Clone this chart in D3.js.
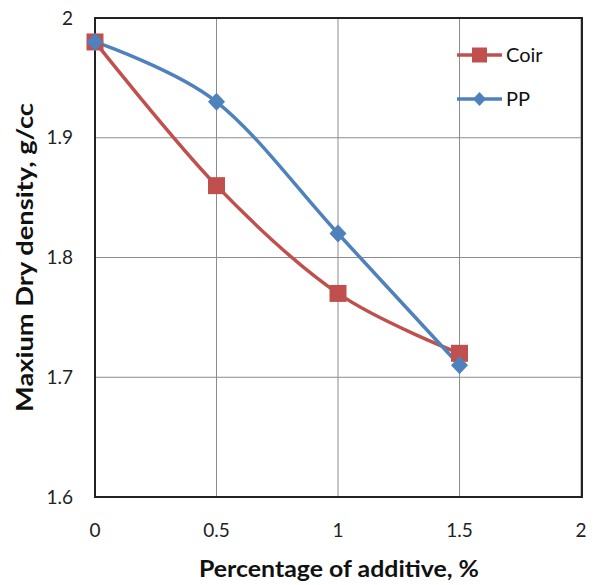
<!DOCTYPE html>
<html><head><meta charset="utf-8">
<script src="https://cdn.jsdelivr.net/npm/d3@7"></script>
<style>body{margin:0;background:#fff}</style>
</head><body>
<svg id="c" width="595" height="585"></svg>
<script>
const xValues = [0, 0.5, 1, 1.5];
const coir = [1.98, 1.86, 1.77, 1.72];
const pp = [1.98, 1.93, 1.82, 1.71];
const xTicks = [0, 0.5, 1, 1.5, 2];
const yTicks = [1.6, 1.7, 1.8, 1.9, 2];
const seriesNames = ["Coir", "PP"];

const svg = d3.select("#c");
const font = "Lato, 'Open Sans', sans-serif";
const L = 95, R = 582, T = 18, B = 497;
const x = d3.scaleLinear().domain([0, 2]).range([L, 581]);
const y = d3.scaleLinear().domain([1.6, 2]).range([B, T]);

// grid
svg.append("g").selectAll("line").data(xTicks.slice(1)).join("line")
  .attr("x1", d => x(d)).attr("x2", d => x(d)).attr("y1", T).attr("y2", B)
  .attr("stroke", "#8c8c8c").attr("stroke-width", 1);
svg.append("g").selectAll("line").data(yTicks.slice(1)).join("line")
  .attr("x1", L).attr("x2", R).attr("y1", d => y(d)).attr("y2", d => y(d))
  .attr("stroke", "#8c8c8c").attr("stroke-width", 1);
// border
svg.append("rect").attr("x", L).attr("y", T).attr("width", R - L).attr("height", B - T)
  .attr("fill", "none").attr("stroke", "#222").attr("stroke-width", 2);

// tick labels
svg.append("g").selectAll("text").data(yTicks).join("text")
  .attr("x", 73).attr("y", d => y(d)).attr("dy", "0.35em").attr("text-anchor", "end")
  .attr("font-family", font).attr("font-size", 19).attr("fill", "#222")
  .text(d => d3.format("")(d));
svg.append("g").selectAll("text").data(xTicks).join("text")
  .attr("x", d => x(d)).attr("y", 537).attr("text-anchor", "middle")
  .attr("font-family", font).attr("font-size", 19).attr("fill", "#222")
  .text(d => d3.format("")(d));

// axis titles
svg.append("text").attr("x", 339).attr("y", 577).attr("text-anchor", "middle")
  .attr("font-family", font).attr("font-weight", "bold").attr("font-size", 22).attr("fill", "#111")
  .attr("textLength", 280).attr("lengthAdjust", "spacingAndGlyphs")
  .text("Percentage of additive, %");
svg.append("text").attr("transform", "translate(33,257.5) rotate(-90)").attr("text-anchor", "middle")
  .attr("font-family", font).attr("font-weight", "bold").attr("font-size", 22).attr("fill", "#111")
  .attr("textLength", 309).attr("lengthAdjust", "spacingAndGlyphs")
  .text("Maxium Dry density, g/cc");

const line = d3.line().x(d => x(d[0])).y(d => y(d[1])).curve(d3.curveCatmullRom.alpha(0));
const colors = ["#C0504D", "#4F81BD"];
const data = [coir, pp];

data.forEach((vals, i) => {
  const pts = xValues.map((v, j) => [v, vals[j]]);
  svg.append("path").attr("d", line(pts)).attr("fill", "none")
    .attr("stroke", colors[i]).attr("stroke-width", 3.5);
});
// markers
const square = s => `M${-s},${-s}H${s}V${s}H${-s}Z`;
const diamond = (w, h) => `M0,${-h}L${w},0L0,${h}L${-w},0Z`;
svg.append("g").selectAll("path").data(xValues.map((v, j) => [v, coir[j]])).join("path")
  .attr("d", square(8.5)).attr("transform", d => `translate(${x(d[0])},${y(d[1])})`).attr("fill", colors[0]);
svg.append("g").selectAll("path").data(xValues.map((v, j) => [v, pp[j]])).join("path")
  .attr("d", diamond(8.5, 9)).attr("transform", d => `translate(${x(d[0])},${y(d[1])})`).attr("fill", colors[1]);

// legend
const lg = svg.append("g");
[55, 99].forEach((ly, i) => {
  lg.append("line").attr("x1", 457).attr("x2", 502).attr("y1", ly).attr("y2", ly)
    .attr("stroke", colors[i]).attr("stroke-width", 3.5);
  lg.append("path").attr("d", i === 0 ? square(7.5) : diamond(6.5, 7))
    .attr("transform", `translate(479.5,${ly})`).attr("fill", colors[i]);
  lg.append("text").attr("x", 506).attr("y", ly).attr("dy", "0.36em")
    .attr("font-family", font).attr("font-size", 20).attr("fill", "#111").text(seriesNames[i]);
});
</script>
</body></html>
